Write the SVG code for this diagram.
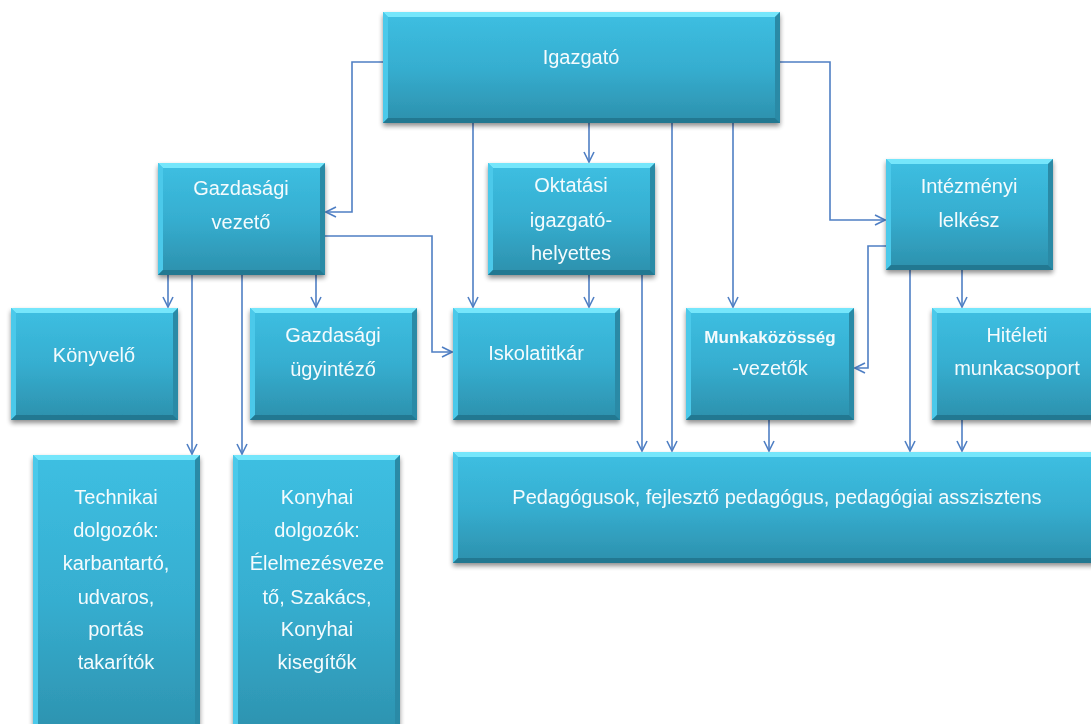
<svg xmlns="http://www.w3.org/2000/svg" width="1091" height="724" viewBox="0 0 1091 724">
<defs>
<linearGradient id="fillG" x1="0" y1="0" x2="0" y2="1">
<stop offset="0" stop-color="#3dbfe2"/>
<stop offset="0.5" stop-color="#36aed0"/>
<stop offset="1" stop-color="#2c90ac"/>
</linearGradient>
<filter id="sh" x="-10%" y="-10%" width="120%" height="130%">
<feGaussianBlur in="SourceAlpha" stdDeviation="2.5"/>
<feOffset dx="0" dy="3" result="b"/>
<feComponentTransfer><feFuncA type="linear" slope="0.45"/></feComponentTransfer>
<feMerge><feMergeNode/><feMergeNode in="SourceGraphic"/></feMerge>
</filter>
<marker id="arr" viewBox="0 0 12 12" refX="11" refY="6" markerWidth="12" markerHeight="12" markerUnits="userSpaceOnUse" orient="auto">
<path d="M1,1 L11,6 L1,11" fill="none" stroke="#4f7fc4" stroke-width="1.6"/>
</marker>
</defs>
<style>
.box{fill:url(#fillG);}
.bt{fill:#74e6fb;}
.bb{fill:#237891;}
.bl{fill:#4cc9ea;}
.br{fill:#2a8aa6;}
.t{font-family:"Liberation Sans",Arial,sans-serif;font-size:20px;fill:#f4fbfd;text-anchor:middle;}
.ts{font-size:17px;font-weight:bold;}
.c{fill:none;stroke:#4f7fc4;stroke-width:1.6;marker-end:url(#arr);}
</style>
<rect width="1091" height="724" fill="#ffffff"/>

<g id="connectors">
<path class="c" d="M383,62 H352 V212 H326"/>
<path class="c" d="M780,62 H830 V220 H885"/>
<path class="c" d="M473,123 V307"/>
<path class="c" d="M589,123 V162"/>
<path class="c" d="M672,123 V451"/>
<path class="c" d="M733,123 V307"/>
<path class="c" d="M325,236 H432 V352 H452"/>
<path class="c" d="M168,275 V307"/>
<path class="c" d="M192,275 V454"/>
<path class="c" d="M242,275 V454"/>
<path class="c" d="M316,275 V307"/>
<path class="c" d="M589,275 V307"/>
<path class="c" d="M642,275 V451"/>
<path class="c" d="M886,246 H868 V368 H855"/>
<path class="c" d="M910,270 V451"/>
<path class="c" d="M962,270 V307"/>
<path class="c" d="M769,420 V451"/>
<path class="c" d="M962,420 V451"/>
</g>

<g id="n-igazgato" filter="url(#sh)">
<rect class="box" x="383" y="12" width="397" height="111"/>
<polygon class="bt" points="383,12 780,12 775,17 388,17"/>
<polygon class="bl" points="383,12 388,17 388,118 383,123"/>
<polygon class="br" points="780,12 775,17 775,118 780,123"/>
<polygon class="bb" points="383,123 780,123 775,118 388,118"/>
<text class="t" x="581" y="64">Igazgató</text>
</g>

<g id="n-gazdasagi-vezeto" filter="url(#sh)">
<rect class="box" x="158" y="163" width="167" height="112"/>
<polygon class="bt" points="158,163 325,163 320,168 163,168"/>
<polygon class="bl" points="158,163 163,168 163,270 158,275"/>
<polygon class="br" points="325,163 320,168 320,270 325,275"/>
<polygon class="bb" points="158,275 325,275 320,270 163,270"/>
<text class="t" x="241" y="195">Gazdasági</text>
<text class="t" x="241" y="229">vezető</text>
</g>

<g id="n-oktatasi" filter="url(#sh)">
<rect class="box" x="488" y="163" width="167" height="112"/>
<polygon class="bt" points="488,163 655,163 650,168 493,168"/>
<polygon class="bl" points="488,163 493,168 493,270 488,275"/>
<polygon class="br" points="655,163 650,168 650,270 655,275"/>
<polygon class="bb" points="488,275 655,275 650,270 493,270"/>
<text class="t" x="571" y="192">Oktatási</text>
<text class="t" x="571" y="227">igazgató-</text>
<text class="t" x="571" y="260">helyettes</text>
</g>

<g id="n-intezmenyi" filter="url(#sh)">
<rect class="box" x="886" y="159" width="167" height="111"/>
<polygon class="bt" points="886,159 1053,159 1048,164 891,164"/>
<polygon class="bl" points="886,159 891,164 891,265 886,270"/>
<polygon class="br" points="1053,159 1048,164 1048,265 1053,270"/>
<polygon class="bb" points="886,270 1053,270 1048,265 891,265"/>
<text class="t" x="969" y="193">Intézményi</text>
<text class="t" x="969" y="227">lelkész</text>
</g>

<g id="n-konyvelo" filter="url(#sh)">
<rect class="box" x="11" y="308" width="167" height="112"/>
<polygon class="bt" points="11,308 178,308 173,313 16,313"/>
<polygon class="bl" points="11,308 16,313 16,415 11,420"/>
<polygon class="br" points="178,308 173,313 173,415 178,420"/>
<polygon class="bb" points="11,420 178,420 173,415 16,415"/>
<text class="t" x="94" y="362">Könyvelő</text>
</g>

<g id="n-gazdasagi-ugyintezo" filter="url(#sh)">
<rect class="box" x="250" y="308" width="167" height="112"/>
<polygon class="bt" points="250,308 417,308 412,313 255,313"/>
<polygon class="bl" points="250,308 255,313 255,415 250,420"/>
<polygon class="br" points="417,308 412,313 412,415 417,420"/>
<polygon class="bb" points="250,420 417,420 412,415 255,415"/>
<text class="t" x="333" y="342">Gazdasági</text>
<text class="t" x="333" y="376">ügyintéző</text>
</g>

<g id="n-iskolatitkar" filter="url(#sh)">
<rect class="box" x="453" y="308" width="167" height="112"/>
<polygon class="bt" points="453,308 620,308 615,313 458,313"/>
<polygon class="bl" points="453,308 458,313 458,415 453,420"/>
<polygon class="br" points="620,308 615,313 615,415 620,420"/>
<polygon class="bb" points="453,420 620,420 615,415 458,415"/>
<text class="t" x="536" y="360">Iskolatitkár</text>
</g>

<g id="n-munkakozosseg" filter="url(#sh)">
<rect class="box" x="686" y="308" width="168" height="112"/>
<polygon class="bt" points="686,308 854,308 849,313 691,313"/>
<polygon class="bl" points="686,308 691,313 691,415 686,420"/>
<polygon class="br" points="854,308 849,313 849,415 854,420"/>
<polygon class="bb" points="686,420 854,420 849,415 691,415"/>
<text class="t ts" x="770" y="343">Munkaközösség</text>
<text class="t" x="770" y="375">-vezetők</text>
</g>

<g id="n-hiteleti" filter="url(#sh)">
<rect class="box" x="932" y="308" width="167" height="112"/>
<polygon class="bt" points="932,308 1099,308 1094,313 937,313"/>
<polygon class="bl" points="932,308 937,313 937,415 932,420"/>
<polygon class="br" points="1099,308 1094,313 1094,415 1099,420"/>
<polygon class="bb" points="932,420 1099,420 1094,415 937,415"/>
<text class="t" x="1017" y="342">Hitéleti</text>
<text class="t" x="1017" y="375">munkacsoport</text>
</g>

<g id="n-pedagogusok" filter="url(#sh)">
<rect class="box" x="453" y="452" width="648" height="111"/>
<polygon class="bt" points="453,452 1101,452 1096,457 458,457"/>
<polygon class="bl" points="453,452 458,457 458,558 453,563"/>
<polygon class="br" points="1101,452 1096,457 1096,558 1101,563"/>
<polygon class="bb" points="453,563 1101,563 1096,558 458,558"/>
<text class="t" x="777" y="504">Pedagógusok, fejlesztő pedagógus, pedagógiai asszisztens</text>
</g>

<g id="n-technikai" filter="url(#sh)">
<rect class="box" x="33" y="455" width="167" height="290"/>
<polygon class="bt" points="33,455 200,455 195,460 38,460"/>
<polygon class="bl" points="33,455 38,460 38,745 33,745"/>
<polygon class="br" points="200,455 195,460 195,745 200,745"/>
<text class="t" x="116" y="504">Technikai</text>
<text class="t" x="116" y="537">dolgozók:</text>
<text class="t" x="116" y="570">karbantartó,</text>
<text class="t" x="116" y="604">udvaros,</text>
<text class="t" x="116" y="636">portás</text>
<text class="t" x="116" y="669">takarítók</text>
</g>

<g id="n-konyhai" filter="url(#sh)">
<rect class="box" x="233" y="455" width="167" height="290"/>
<polygon class="bt" points="233,455 400,455 395,460 238,460"/>
<polygon class="bl" points="233,455 238,460 238,745 233,745"/>
<polygon class="br" points="400,455 395,460 395,745 400,745"/>
<text class="t" x="317" y="504">Konyhai</text>
<text class="t" x="317" y="537">dolgozók:</text>
<text class="t" x="317" y="570">Élelmezésveze</text>
<text class="t" x="317" y="604">tő, Szakács,</text>
<text class="t" x="317" y="636">Konyhai</text>
<text class="t" x="317" y="669">kisegítők</text>
</g>
</svg>
